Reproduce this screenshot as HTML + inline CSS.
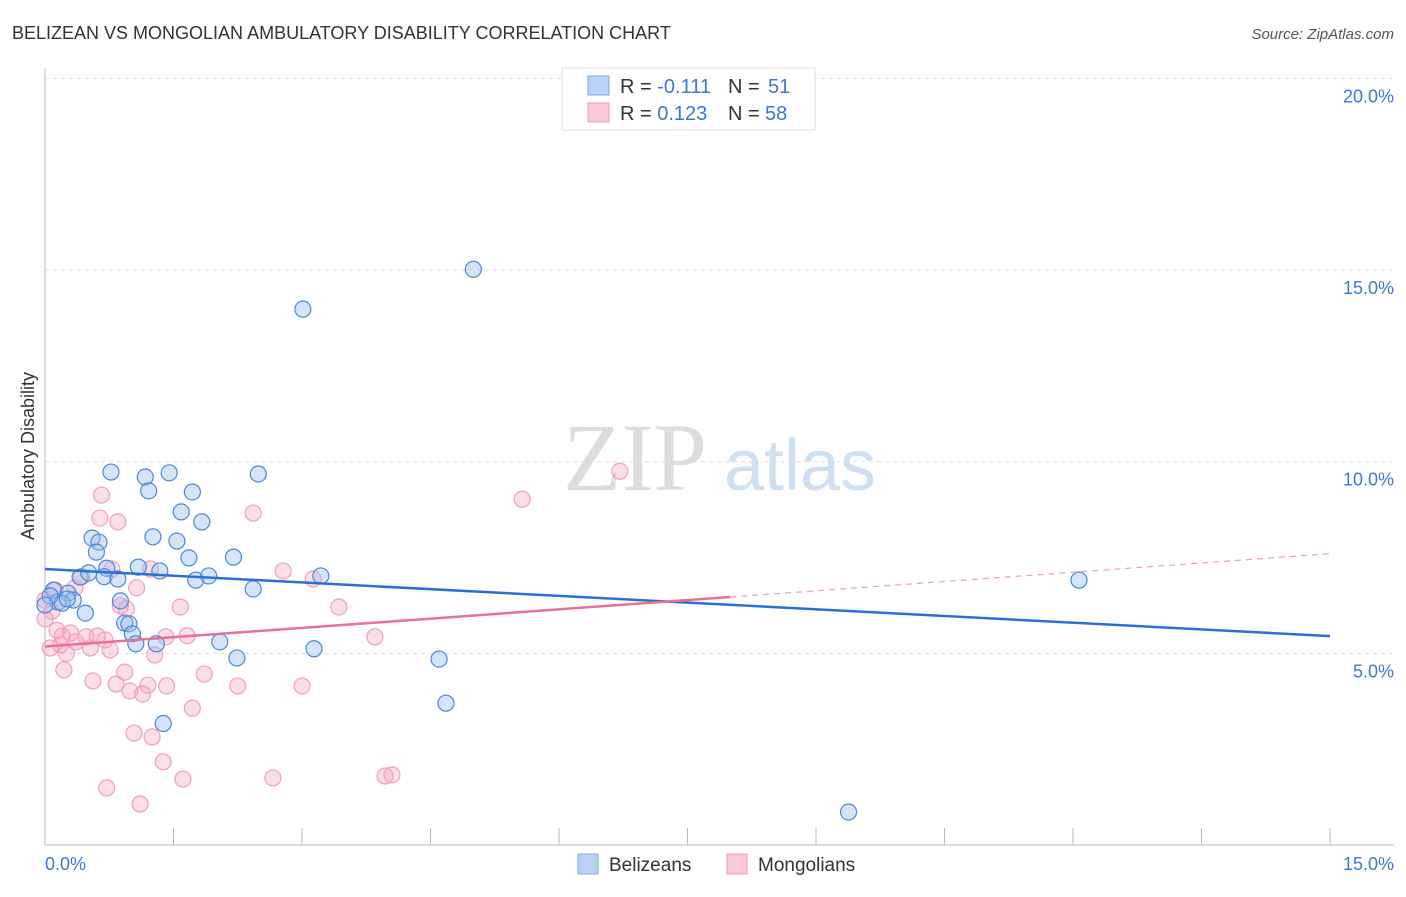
<!DOCTYPE html>
<html><head><meta charset="utf-8"><style>
body{margin:0;background:#fff;font-family:"Liberation Sans",sans-serif}
</style></head><body>
<svg id="chart" width="1406" height="892" xmlns="http://www.w3.org/2000/svg">
<text x="12" y="39" font-size="18" fill="#333">BELIZEAN VS MONGOLIAN AMBULATORY DISABILITY CORRELATION CHART</text>
<text x="1394" y="39" font-size="15" fill="#555" font-style="italic" text-anchor="end">Source: ZipAtlas.com</text>
<text x="635" y="490" font-size="96" fill="#ddd" font-family="Liberation Serif,serif" text-anchor="middle">ZIP</text>
<text x="800" y="490" font-size="72" fill="#cfe0f3" text-anchor="middle">atlas</text>
<g id="grid"></g><g id="axes"></g><g id="pts"></g><g id="lines"></g>
<text transform="translate(34,456) rotate(-90)" font-size="18" fill="#333" text-anchor="middle">Ambulatory Disability</text>
<text x="45" y="870" font-size="18" fill="#3a78d4">0.0%</text>
<text x="1394" y="870" font-size="18" fill="#3a78d4" text-anchor="end">15.0%</text>
<g>
<rect x="562" y="68" width="253" height="62" fill="#fff" stroke="#ddd"/>
<rect x="588" y="76" width="21" height="19" fill="#b8d3f5" stroke="#7aa8e6"/>
<rect x="588" y="103" width="21" height="19" fill="#fbc9d8" stroke="#f09ab5"/>
<text x="620" y="93" font-size="20" fill="#333">R = <tspan fill="#3a78d4">-0.111</tspan><tspan x="728">N = </tspan><tspan x="768" fill="#3a78d4">51</tspan></text>
<text x="620" y="120" font-size="20" fill="#333">R = <tspan fill="#3a78d4"> 0.123</tspan><tspan x="728">N = </tspan><tspan x="765" fill="#3a78d4">58</tspan></text>
</g>
<g>
<rect x="578" y="854" width="20" height="20" fill="#b8d3f5" stroke="#7aa8e6"/>
<text x="609" y="871" font-size="19" fill="#333">Belizeans</text>
<rect x="727" y="854" width="20" height="20" fill="#fbc9d8" stroke="#f09ab5"/>
<text x="758" y="871" font-size="19" fill="#333">Mongolians</text>
</g>
</svg>
<script>
const yTicks=[5,10,15,20];
const xTicks=[0,1.5,3,4.5,6,7.5,9,10.5,12,13.5,15];
const belX=[0.77,1.17,1.45,2.49,1.21,1.72,1.59,1.83,1.26,0.55,0.63,1.54,0.6,1.68,2.2,0.72,1.09,1.34,0.69,0.85,1.76,1.91,2.43,3.22,0.1,0.27,0.15,0.33,0.2,0.47,0.88,0.93,0.98,1.02,1.06,1.3,2.04,2.24,3.14,1.38,3.01,5.0,4.6,4.68,9.38,12.07,0.06,0.0,0.41,0.51,0.26];
const belY=[9.73,9.6,9.71,9.68,9.24,9.21,8.69,8.43,8.04,8.01,7.9,7.93,7.64,7.49,7.51,7.22,7.25,7.15,7.0,6.94,6.91,7.02,6.68,7.02,6.65,6.57,6.34,6.39,6.31,6.05,6.37,5.79,5.77,5.51,5.25,5.25,5.3,4.88,5.12,3.17,13.98,15.02,4.85,3.7,0.86,6.91,6.5,6.26,6.99,7.1,6.42];
const monX=[0.66,0.64,0.85,2.43,6.71,5.57,0.43,0.78,1.23,2.78,3.13,0.88,0.95,1.58,3.43,1.07,0.14,0.2,0.3,0.48,0.61,0.36,0.7,1.41,1.66,3.85,0.06,0.18,0.53,0.76,1.28,0.22,0.56,0.93,0.83,0.99,1.14,1.2,1.42,1.86,2.25,3.0,1.72,1.04,1.25,1.38,0.72,1.11,1.61,2.66,3.97,4.05,0.0,0.08,0.35,0.25,0.0,0.12];
const monY=[9.13,8.53,8.43,8.66,9.75,9.02,7.0,7.2,7.2,7.15,6.94,6.24,6.16,6.21,6.21,6.71,5.6,5.45,5.53,5.43,5.45,5.3,5.35,5.43,5.46,5.43,5.14,5.22,5.14,5.09,4.96,4.57,4.28,4.51,4.2,4.02,3.94,4.17,4.15,4.46,4.15,4.15,3.57,2.92,2.82,2.17,1.49,1.07,1.72,1.75,1.8,1.83,5.9,6.1,6.71,5.0,6.39,6.65];
const belLine=[7.2,5.45], monLine=[5.18,7.6], monSolidEnd=8.0;
const X=v=>45+v/15*1285, Y=v=>845-v*38.33;
const NS='http://www.w3.org/2000/svg';
function mk(t,a,p){const e=document.createElementNS(NS,t);for(const k in a)e.setAttribute(k,a[k]);p.appendChild(e);return e;}
const grid=document.getElementById('grid'),axes=document.getElementById('axes'),pts=document.getElementById('pts'),lines=document.getElementById('lines');
yTicks.forEach(t=>{
 const l=mk('line',{x1:45,x2:1394,y1:Y(t),y2:Y(t),stroke:'#ddd','stroke-dasharray':'4,4'},grid);
 
 
 const tx=mk('text',{x:1394,y:Y(t)+24,'font-size':18,fill:'#3a78d4','text-anchor':'end'},grid);
 tx.textContent=t.toFixed(1)+'%';
 
 
});
const ax=mk('line',{x1:45,x2:45,y1:68,y2:845,stroke:'#bbb'},axes);


const bx=mk('line',{x1:45,x2:1394,y1:845,y2:845,stroke:'#bbb'},axes);


xTicks.forEach(t=>{
 const l=mk('line',{x1:X(t),x2:X(t),y1:828,y2:845,stroke:'#bbb'},axes);
 
 
});
monX.forEach((v,i)=>{
 const c=mk('circle',{cx:X(v),cy:Y(monY[i]),r:8,fill:'rgba(246,160,188,0.35)',stroke:'#f0a0b8','stroke-width':1.2},pts);
 
 
});
belX.forEach((v,i)=>{
 const c=mk('circle',{cx:X(v),cy:Y(belY[i]),r:8,fill:'rgba(150,190,240,0.4)',stroke:'#4a88d8','stroke-width':1.2},pts);
 
 
});
const bl=mk('line',{x1:X(0),y1:Y(belLine[0]),x2:X(15),y2:Y(belLine[1]),stroke:'#2a6fd6','stroke-width':2.5},lines);


const ym=monLine[0]+(monLine[1]-monLine[0])*monSolidEnd/15;
const ml=mk('line',{x1:X(0),y1:Y(monLine[0]),x2:X(monSolidEnd),y2:Y(ym),stroke:'#e8709a','stroke-width':2.5},lines);


const md=mk('line',{x1:X(monSolidEnd),y1:Y(ym),x2:X(15),y2:Y(monLine[1]),stroke:'#e8a0b8','stroke-width':1.2,'stroke-dasharray':'6,5'},lines);


</script>
</body></html>
